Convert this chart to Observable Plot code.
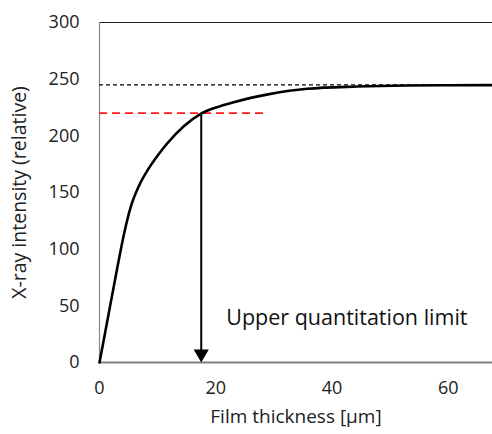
<!DOCTYPE html>
<html>
<head>
<meta charset="utf-8">
<script src="https://cdn.jsdelivr.net/npm/d3@7"></script>
<script src="https://cdn.jsdelivr.net/npm/@observablehq/plot@0.6"></script>
<style>
  html, body { margin: 0; padding: 0; background: #fff; }
  #chart { width: 492px; height: 434px; }
</style>
</head>
<body>
<div id="chart"></div>
<script>
// Data
const thickness = [0, 2.6, 3.3, 4.2, 5.3, 6.8, 8.5, 10.5, 11.6, 14.5, 17.4, 20.2, 23.1, 26, 29.2, 35.7, 44.3, 52.9, 60, 67.6];
const intensity = [0, 71, 90, 113, 136, 156, 171.5, 186, 193, 208.5, 219.4, 225.3, 229.7, 233.5, 236.8, 241.5, 243.5, 244.4, 244.6, 244.7];
const saturation = 245;        // black dashed line
const upperLimit = 220;        // red dashed line
const limitThickness = 17.5;   // arrow position
const redEnd = 29;             // red dashed line extent
const xTicks = [0, 20, 40, 60];
const yTicks = [0, 50, 100, 150, 200, 250, 300];
const annotation = {x: 21.8, y: 38.8, text: "Upper quantitation limit"};
const xLabel = "Film thickness [µm]";
const yLabel = "X-ray intensity (relative)";

const curve = thickness.map((t, i) => ({t, v: intensity[i]}));

const chart = Plot.plot({
  width: 492,
  height: 434,
  marginLeft: 99,
  marginRight: 0,
  marginTop: 22,
  marginBottom: 72,
  style: {fontFamily: "'Open Sans', sans-serif", fontSize: "18px", color: "#222", background: "#fff"},
  x: {domain: [0, 67.6]},
  y: {domain: [0, 300]},
  marks: [
    Plot.axisX({ticks: xTicks, tickSize: 0, tickPadding: 19, fontSize: 18, label: null}),
    Plot.axisX({ticks: [], tickSize: 0, fontSize: 19, label: xLabel, labelAnchor: "center", labelArrow: "none", labelOffset: 60}),
    Plot.axisY({ticks: yTicks, tickSize: 0, tickPadding: 20, fontSize: 18, label: null}),
    Plot.axisY({ticks: [], tickSize: 0, fontSize: 19.5, label: yLabel, labelAnchor: "center", labelArrow: "none", labelOffset: 87}),
    Plot.ruleY([300], {stroke: "#222", strokeWidth: 1}),
    Plot.ruleX([0], {stroke: "#888", strokeWidth: 1.2}),
    Plot.ruleY([saturation], {stroke: "#000", strokeWidth: 1.2, strokeDasharray: "4,3"}),
    Plot.ruleY([upperLimit], {x1: 0, x2: redEnd, stroke: "#ff1a1a", strokeWidth: 1.8, strokeDasharray: "8,5"}),
    Plot.ruleY([0], {stroke: "#808080", strokeWidth: 2}),
    Plot.line(curve, {x: "t", y: "v", curve: "monotone-x", stroke: "#000", strokeWidth: 2.6}),
    Plot.ruleX([limitThickness], {y1: upperLimit, y2: 8, stroke: "#000", strokeWidth: 2}),
    Plot.dot([{x: limitThickness, y: 0}], {x: "x", y: "y", symbol: "triangle", rotate: 180, r: 5.6, fill: "#000", stroke: "none", dy: -8.7}),
    Plot.text([annotation], {x: "x", y: "y", text: "text", textAnchor: "start", fontSize: 21.5, fill: "#111"})
  ]
});
document.getElementById("chart").appendChild(chart);
</script>
</body>
</html>
